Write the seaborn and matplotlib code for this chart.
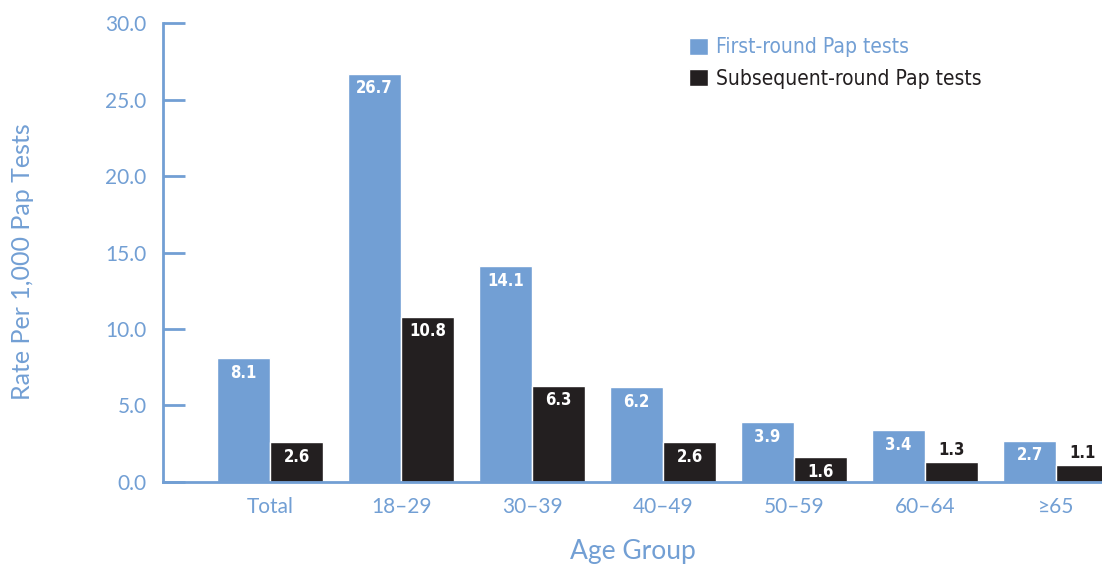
import pandas as pd
import matplotlib
matplotlib.use("Agg")
import matplotlib.pyplot as plt
import seaborn as sns

# Data
age_groups = ["Total", "18\u201329", "30\u201339", "40\u201349", "50\u201359", "60\u201364", "\u226565"]
first_round = [8.1, 26.7, 14.1, 6.2, 3.9, 3.4, 2.7]
subsequent_round = [2.6, 10.8, 6.3, 2.6, 1.6, 1.3, 1.1]
series_names = ["First-round Pap tests", "Subsequent-round Pap tests"]
y_ticks = [0, 5, 10, 15, 20, 25, 30]

blue = "#729fd4"
black = "#231f20"

df = pd.DataFrame({
    "age": age_groups * 2,
    "rate": first_round + subsequent_round,
    "series": [series_names[0]] * len(age_groups) + [series_names[1]] * len(age_groups),
})

sns.set_style("white")
plt.rcParams["font.family"] = ["Lato", "DejaVu Sans"]
narrow = ["DejaVu Sans"]

fig = plt.figure(figsize=(11.02, 5.67), dpi=100)
ax = fig.add_axes([0.148, 0.150, 0.852, 0.809])

sns.barplot(data=df, x="age", y="rate", hue="series", order=age_groups,
            hue_order=series_names, palette=[blue, black], width=0.81,
            saturation=1, ax=ax, legend=True)

# value labels: white inside the bar, dark above it for the tiny ones
for container in ax.containers:
    for bar in container:
        v = bar.get_height()
        x = bar.get_x() + bar.get_width() / 2
        if v < 1.5:
            ax.annotate(f"{v:.1f}", (x, v), xytext=(0, 2), textcoords="offset points",
                        ha="center", va="bottom", color=black, fontsize=12,
                        fontweight="bold", family=narrow, stretch="condensed")
        else:
            ax.annotate(f"{v:.1f}", (x, v), xytext=(0, -4), textcoords="offset points",
                        ha="center", va="top", color="white", fontsize=12,
                        fontweight="bold", family=narrow, stretch="condensed")

ax.set_ylim(0, 30)
ax.set_xlim(-0.817, 6.35)
ax.set_yticks(y_ticks)
ax.set_yticklabels([f"{t:.1f}" for t in y_ticks])

for side in ["top", "right"]:
    ax.spines[side].set_visible(False)
for side in ["left", "bottom"]:
    ax.spines[side].set_color(blue)
    ax.spines[side].set_linewidth(2)

ax.tick_params(axis="y", direction="in", length=16, width=2, color=blue,
               labelcolor=blue, labelsize=15, pad=12, left=True)
ax.tick_params(axis="x", length=0, labelcolor=blue, labelsize=15, pad=11)

ax.set_xlabel("Age Group", color=blue, fontsize=19, labelpad=16)
ax.set_ylabel("Rate Per 1,000 Pap Tests", color=blue, fontsize=18)
ax.yaxis.set_label_coords(-0.138, 0.48)

leg = ax.legend(loc="upper left", bbox_to_anchor=(0.54, 1.01), frameon=False,
                handlelength=0.9, handleheight=0.9,
                handletextpad=0.4, labelspacing=0.55,
                prop={"family": narrow, "size": 15, "stretch": "condensed"})
leg.get_texts()[0].set_color(blue)
leg.get_texts()[1].set_color(black)

fig.savefig("out.png", dpi=100)
